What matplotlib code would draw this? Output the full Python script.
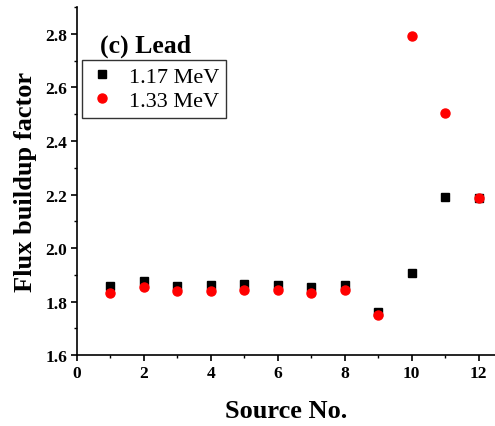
import numpy as np
import matplotlib.pyplot as plt
from matplotlib.ticker import MultipleLocator

source_no = [1, 2, 3, 4, 5, 6, 7, 8, 9, 10, 11, 12]
flux_117 = [1.859, 1.878, 1.857, 1.863, 1.867, 1.863, 1.853, 1.862, 1.762, 1.907, 2.190, 2.186]
flux_133 = [1.832, 1.854, 1.839, 1.838, 1.844, 1.844, 1.832, 1.844, 1.748, 2.792, 2.503, 2.186]

plt.rcParams['font.family'] = ['Liberation Serif', 'DejaVu Serif']

fig = plt.figure(figsize=(4.95, 4.27), dpi=100)
ax = fig.add_axes([0.1556, 0.166, 0.845, 0.815])

ax.plot(source_no, flux_117, 's', color='black', markersize=6, label='1.17 MeV')
ax.plot(source_no, flux_133, 'o', color='red', markersize=6.5, label='1.33 MeV')

ax.set_xlim(0, 12.5)
ax.set_ylim(1.6, 2.9)
ax.xaxis.set_major_locator(MultipleLocator(2))
ax.xaxis.set_minor_locator(MultipleLocator(1))
ax.yaxis.set_major_locator(MultipleLocator(0.2))
ax.yaxis.set_minor_locator(MultipleLocator(0.1))
ax.set_yticks([1.6, 1.8, 2.0, 2.2, 2.4, 2.6, 2.8])

ax.spines['top'].set_visible(False)
ax.spines['right'].set_visible(False)
ax.spines['left'].set_linewidth(1.2)
ax.spines['bottom'].set_linewidth(1.2)
ax.tick_params(which='major', direction='out', length=4, width=1.2, labelsize=12.5, pad=3)
ax.tick_params(which='minor', direction='out', length=2.5, width=1.0)
for lbl in ax.get_xticklabels() + ax.get_yticklabels():
    lbl.set_fontweight('bold')

ax.set_xlabel('Source No.', fontsize=19, fontweight='bold', labelpad=13)
ax.set_ylabel('Flux buildup factor', fontsize=19, fontweight='bold', labelpad=6)

ax.text(0.055, 0.89, '(c) Lead', transform=ax.transAxes, fontsize=18.5,
        fontweight='bold', va='center', ha='left')

leg = ax.legend(loc='upper left', bbox_to_anchor=(0.012, 0.848), borderaxespad=0,
                fontsize=16, frameon=True, fancybox=False, handletextpad=0.6,
                handlelength=1.2, borderpad=0.3, labelspacing=0.15)
leg.get_frame().set_edgecolor('black')
leg.get_frame().set_linewidth(1.0)

fig.savefig('out.png', dpi=100)
